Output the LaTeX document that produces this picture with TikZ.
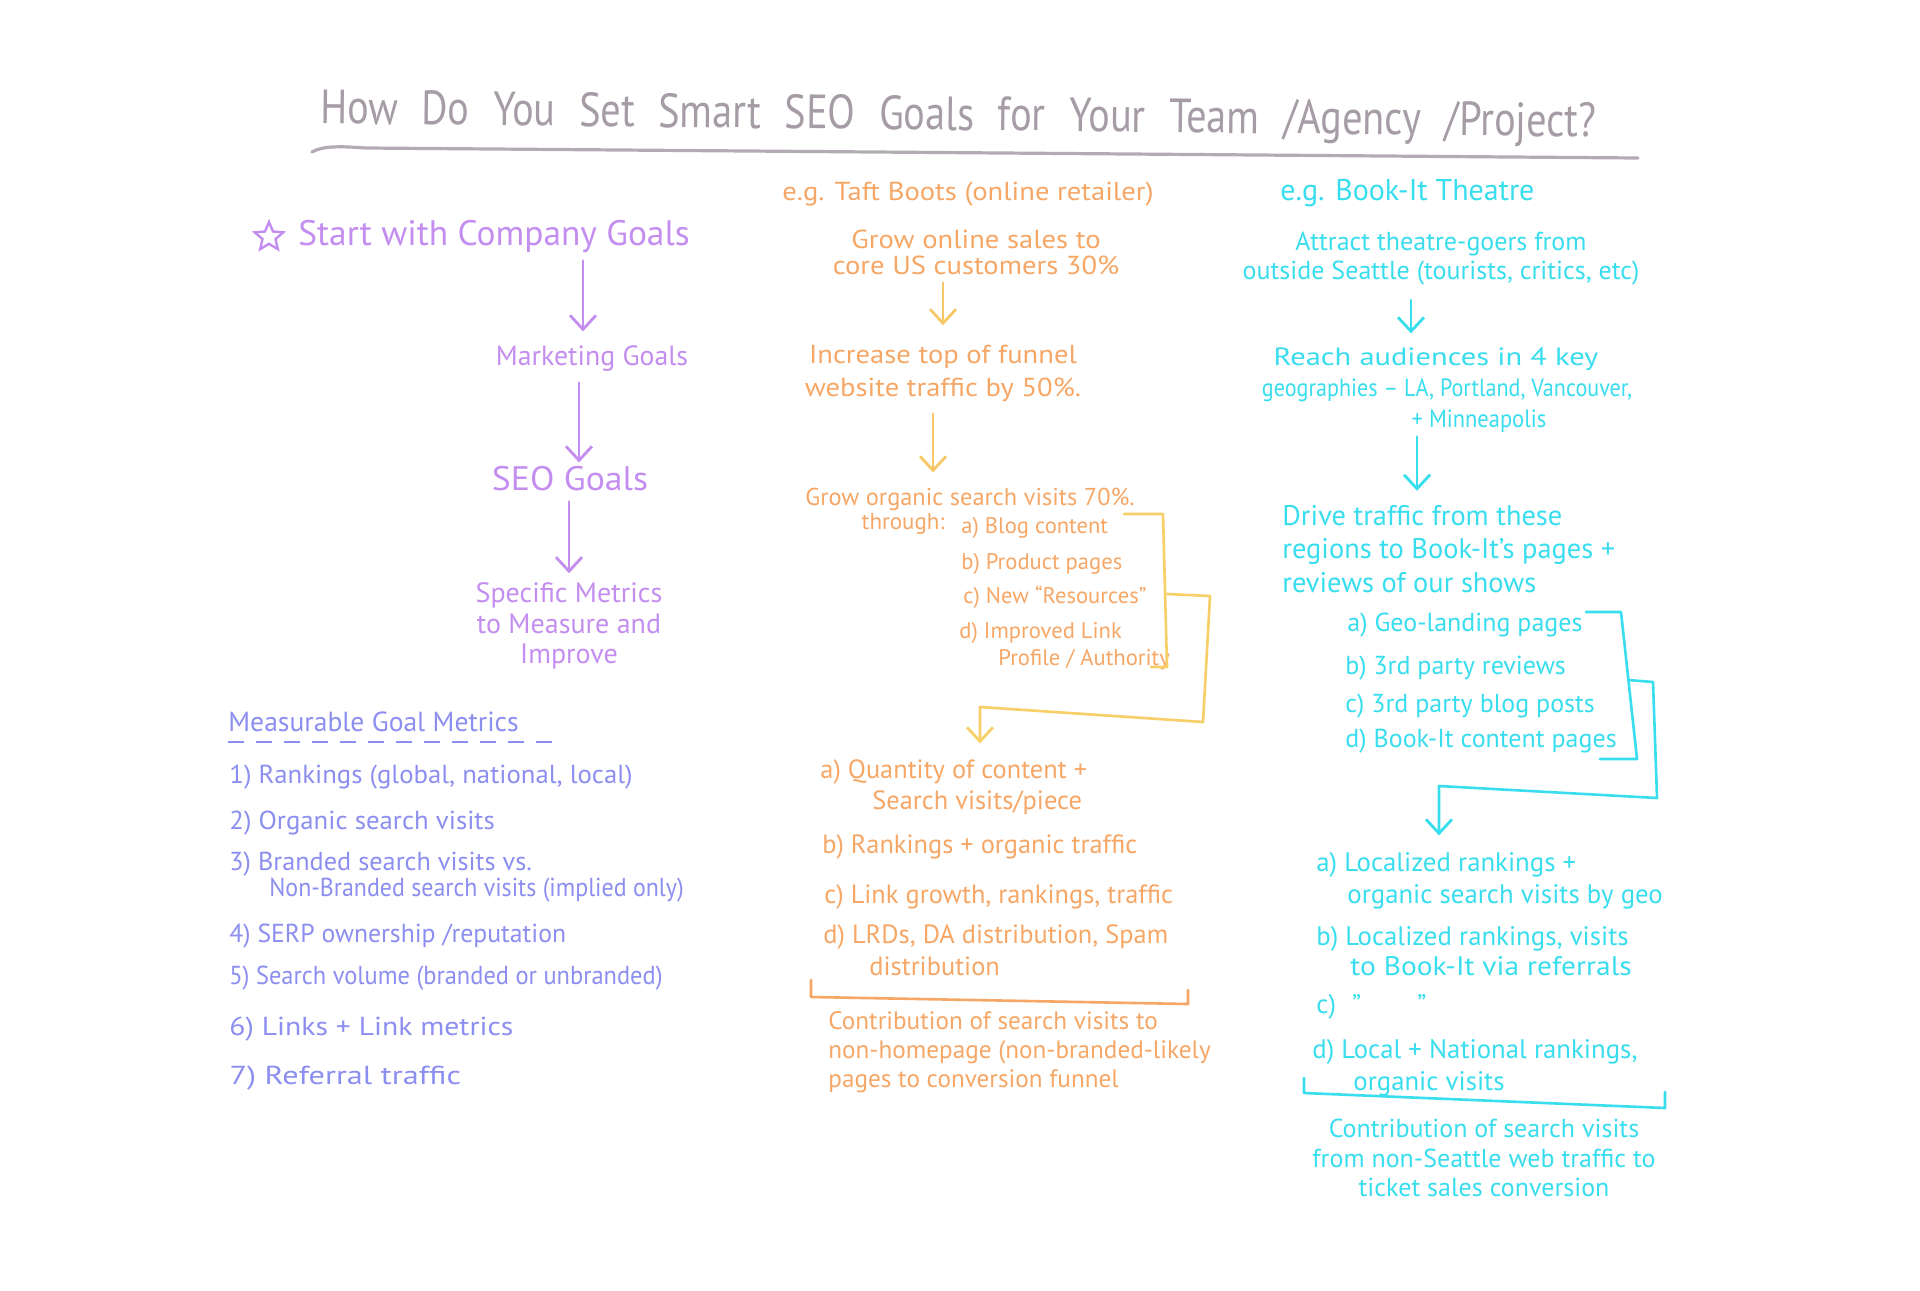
\documentclass[tikz,border=0pt]{standalone}
\usepackage{fontspec}
\setmainfont{PT Sans}
\newfontfamily\ttlfont[WordSpace=2.2]{PT Sans}
\usetikzlibrary{arrows.meta,shapes.geometric}
\definecolor{ttl}{HTML}{A69CA6}
\definecolor{lav}{HTML}{C48EF0}
\definecolor{vio}{HTML}{8C8EF0}
\definecolor{org}{HTML}{F6A766}
\definecolor{yel}{HTML}{F7CF66}
\definecolor{cyn}{HTML}{38DDEE}
\tikzset{
  hw/.style={inner sep=0pt, text height=0.72em, text depth=0.2em, yshift=-2pt},
  ml/.style={inner sep=0pt},
  fs/.style 2 args={font=\fontsize{#1}{#2}\selectfont},
  arr/.style={-{Straight Barb[length=7pt,width=13pt,line width=1.4pt]}, line width=1.4pt, line cap=round, line join=round},
  brk/.style={line width=1.3pt, line cap=round, line join=round},
}
\begin{document}
\begin{tikzpicture}[x=0.5pt,y=-0.5pt]
\useasboundingbox (0,0) rectangle (1920,1290);
\fill[white] (0,0) rectangle (1920,1290);

% ---------- title ----------
\node[hw, text=ttl, font=\ttlfont\fontsize{24}{28}\selectfont, rotate=-0.6, xscale=0.84] (title) at (958,121) {How Do You Set Smart SEO Goals for Your Team /Agency /Project?};
\draw[ttl!85, line width=1.6pt, line cap=round] (312,152) .. controls (322,146) and (340,146) .. (365,148) -- (1638,158);

% ---------- left column ----------
\node[star, star points=5, star point ratio=2.2, draw=lav, line width=1.2pt, minimum size=15pt, inner sep=0pt] (star) at (269,237) {};
\node[hw, text=lav, fs={17.7}{20}, anchor=west] (cg) at (298,236) {Start with Company Goals};
\node[hw, text=lav, fs={13.9}{16}] (mg) at (592,356) {Marketing Goals};
\node[hw, text=lav, fs={17}{20}, xscale=1.05] (seo) at (570,481) {SEO Goals};
\node[ml, text=lav, fs={14}{15.3}, align=center] (spm) at (569,626) {Specific Metrics\\to Measure and\\Improve};
\draw[arr, lav, shorten <=5.5pt, shorten >=9.5pt] ([xshift=-4.5pt]mg.north |- cg.south) -- ([xshift=-4.5pt]mg.north);
\draw[arr, lav, shorten <=6.5pt, shorten >=6.5pt] ([xshift=4.5pt]seo.north |- mg.south) -- ([xshift=4.5pt]seo.north);
\draw[arr, lav, shorten <=3.5pt, shorten >=4.5pt] (spm.north |- seo.south) -- (spm.north);

\node[hw, text=vio, fs={13.8}{16}, anchor=west] (mgm) at (228,722) {Measurable Goal Metrics};
\draw[vio, line width=1.2pt, dash pattern=on 8pt off 6pt] (228,742) coordinate (dl) -- (560,742) coordinate (dr);
\node[hw, text=vio, fs={13}{15}, anchor=west, xscale=1.03] (m1) at (229,774) {1) Rankings (global, national, local)};
\node[hw, text=vio, fs={13}{15}, anchor=west, xscale=1.03] (m2) at (229,820) {2) Organic search visits};
\node[hw, text=vio, fs={13}{15}, anchor=west, xscale=1.01] (m3) at (229,861) {3) Branded search visits vs.};
\node[hw, text=vio, fs={13}{15}, anchor=west, xscale=0.92] (m3b) at (269,887) {Non-Branded search visits (implied only)};
\node[hw, text=vio, fs={13}{15}, anchor=west, xscale=0.99] (m4) at (229,933) {4) SERP ownership /reputation};
\node[hw, text=vio, fs={13}{15}, anchor=west, xscale=0.94] (m5) at (229,975) {5) Search volume (branded or unbranded)};
\node[hw, text=vio, fs={13}{15}, anchor=west, xscale=1.14] (m6) at (229,1026) {6) Links + Link metrics};
\node[hw, text=vio, fs={13}{15}, anchor=west, xscale=1.24] (m7) at (229,1075) {7) Referral traffic};

% ---------- middle column ----------
\node[hw, text=org, fs={13}{15}, xscale=1.1] (eg1) at (968,191) {e.g. Taft Boots (online retailer)};
\node[ml, text=org, fs={13}{13}, align=center, xscale=1.1] (gos) at (976,252) {Grow online sales to\\core US customers 30\%};
\node[ml, text=org, fs={13}{16.5}, align=center, xscale=1.1] (inc) at (943,373) {Increase top of funnel\\website traffic by 50\%.};
\node[hw, text=org, fs={12.2}{14}, anchor=west] (gorg) at (805,496) {Grow organic search visits 70\%.};
\node[hw, text=org, fs={11.5}{13}, anchor=east] (thr) at (945,520) {through:};
\node[hw, text=org, fs={11.3}{13}, anchor=west] (la) at (961,524) {a) Blog content};
\node[hw, text=org, fs={11.3}{13}, anchor=west] (lb) at (961,560) {b) Product pages};
\node[hw, text=org, fs={11.3}{13}, anchor=west] (lc) at (963,594) {c) New ``Resources''};
\node[hw, text=org, fs={11.3}{13}, anchor=west] (ld) at (959,629) {d) Improved Link};
\node[hw, text=org, fs={11.3}{13}, anchor=west] (ld2) at (998,656) {Profile / Authority};
\draw[arr, yel!80!org, shorten <=4pt, shorten >=9.5pt] (inc.north |- gos.south) -- (inc.north);
\draw[arr, yel!80!org, shorten <=6pt, shorten >=9pt] ([xshift=-5pt]inc.south) -- ([xshift=-5pt]inc.south |- gorg.north);

\coordinate (m1a) at (1124,514);
\coordinate (m1b) at (1163,514);
\coordinate (m1c) at (1167,667);
\coordinate (m1d) at (1151,667);
\draw[brk, yel] (m1a) -- (m1b) -- (m1c) -- (m1d);
\coordinate (m2a) at (1167,594);
\coordinate (m2b) at (1210,596);
\coordinate (m2c) at (1203,722);
\coordinate (m2d) at (980,707);

\node[hw, text=org, fs={13.2}{15}, anchor=west] (qa) at (820,769) {a) Quantity of content +};
\node[hw, text=org, fs={13.2}{15}, anchor=west] (qa2) at (872,800) {Search visits/piece};
\node[hw, text=org, fs={13.2}{15}, anchor=west] (qb) at (822,844) {b) Rankings + organic traffic};
\node[hw, text=org, fs={13.2}{15}, anchor=west] (qc) at (824,894) {c) Link growth, rankings, traffic};
\node[hw, text=org, fs={13.2}{15}, anchor=west] (qd) at (823,934) {d) LRDs, DA distribution, Spam};
\node[hw, text=org, fs={13.2}{15}, anchor=west] (qd2) at (869,966) {distribution};
\draw[arr, brk, yel, shorten >=10pt] (m2a) -- (m2b) -- (m2c) -- (m2d) -- (m2d |- qa.north);

\coordinate (m3a) at (811,980);
\coordinate (m3b) at (811,997);
\coordinate (m3c) at (1188,1004);
\coordinate (m3d) at (1188,990);
\draw[brk, org] (m3a) -- (m3b) -- (m3c) -- (m3d);
\node[ml, text=org, fs={12.6}{14.5}, align=left, anchor=west] (cm) at (828,1052) {Contribution of search visits to\\non-homepage (non-branded-likely\\pages to conversion funnel};

% ---------- right column ----------
\node[hw, text=cyn, fs={15}{17}, anchor=west] (eg2) at (1280,191) {e.g. Book-It Theatre};
\node[ml, text=cyn, fs={13}{14.5}, align=center] (att) at (1441,259) {Attract theatre-goers from\\outside Seattle (tourists, critics, etc)};
\node[hw, text=cyn, fs={12.5}{15}, xscale=1.22] (reach1) at (1436,356) {Reach audiences in 4 key};
\node[hw, text=cyn, fs={12.5}{15}, xscale=0.885] (reach2) at (1447,387) {geographies -- LA, Portland, Vancouver,};
\node[hw, text=cyn, fs={12.5}{15}, xscale=0.9] (reach3) at (1479,418) {+ Minneapolis};
\node[ml, text=cyn, fs={14.2}{16.8}, align=left, anchor=west] (drive) at (1282,549) {Drive traffic from these\\regions to Book-It's pages +\\reviews of our shows};
\draw[arr, cyn, shorten <=7pt, shorten >=8.5pt] ([xshift=-12.5pt]reach1.north |- att.south) -- ([xshift=-12.5pt]reach1.north);
\draw[arr, cyn, shorten <=2.5pt, shorten >=7pt] ([xshift=-15pt]reach2.south |- reach3.south) -- ([xshift=-15pt]reach2.south |- drive.north);

\node[hw, text=cyn, fs={13}{15}, anchor=west] (ra) at (1347,622) {a) Geo-landing pages};
\node[hw, text=cyn, fs={13}{15}, anchor=west] (rb) at (1345,665) {b) 3rd party reviews};
\node[hw, text=cyn, fs={13}{15}, anchor=west] (rc) at (1345,703) {c) 3rd party blog posts};
\node[hw, text=cyn, fs={13}{15}, anchor=west] (rd) at (1345,738) {d) Book-It content pages};
\coordinate (r1a) at (1586,612);
\coordinate (r1b) at (1621,612);
\coordinate (r1c) at (1637,759);
\coordinate (r1d) at (1600,759);
\draw[brk, cyn] (r1a) -- (r1b) -- (r1c) -- (r1d);
\coordinate (r2a) at (1628,680);
\coordinate (r2b) at (1653,682);
\coordinate (r2c) at (1657,798);
\coordinate (r2d) at (1439,786);

\node[hw, text=cyn, fs={13.4}{15}, anchor=west] (sa) at (1316,862) {a) Localized rankings +};
\node[hw, text=cyn, fs={13.4}{15}, anchor=west] (sa2) at (1347,894) {organic search visits by geo};
\node[hw, text=cyn, fs={13.4}{15}, anchor=west] (sb) at (1316,936) {b) Localized rankings, visits};
\node[hw, text=cyn, fs={13.4}{15}, anchor=west, xscale=1.1] (sb2) at (1350,966) {to Book-It via referrals};
\node[hw, text=cyn, fs={13.4}{15}, anchor=west] (sc) at (1316,1004) {c)\hspace{0.6em}"\hspace{2.1em}"};
\node[hw, text=cyn, fs={13.4}{15}, anchor=west] (sd) at (1312,1049) {d) Local + National rankings,};
\node[hw, text=cyn, fs={13.4}{15}, anchor=west] (sd2) at (1353,1081) {organic visits};
\draw[arr, brk, cyn, shorten >=10.5pt] (r2a) -- (r2b) -- (r2c) -- (r2d) -- (r2d |- sa.north);

\coordinate (r3a) at (1304,1078);
\coordinate (r3b) at (1304,1093);
\coordinate (r3c) at (1665,1108);
\coordinate (r3d) at (1665,1092);
\draw[brk, cyn] (r3a) -- (r3b) -- (r3c) -- (r3d);
\node[ml, text=cyn, fs={13}{14.75}, align=center] (cr) at (1484,1158) {Contribution of search visits\\from non-Seattle web traffic to\\ticket sales conversion};
\end{tikzpicture}
\end{document}
